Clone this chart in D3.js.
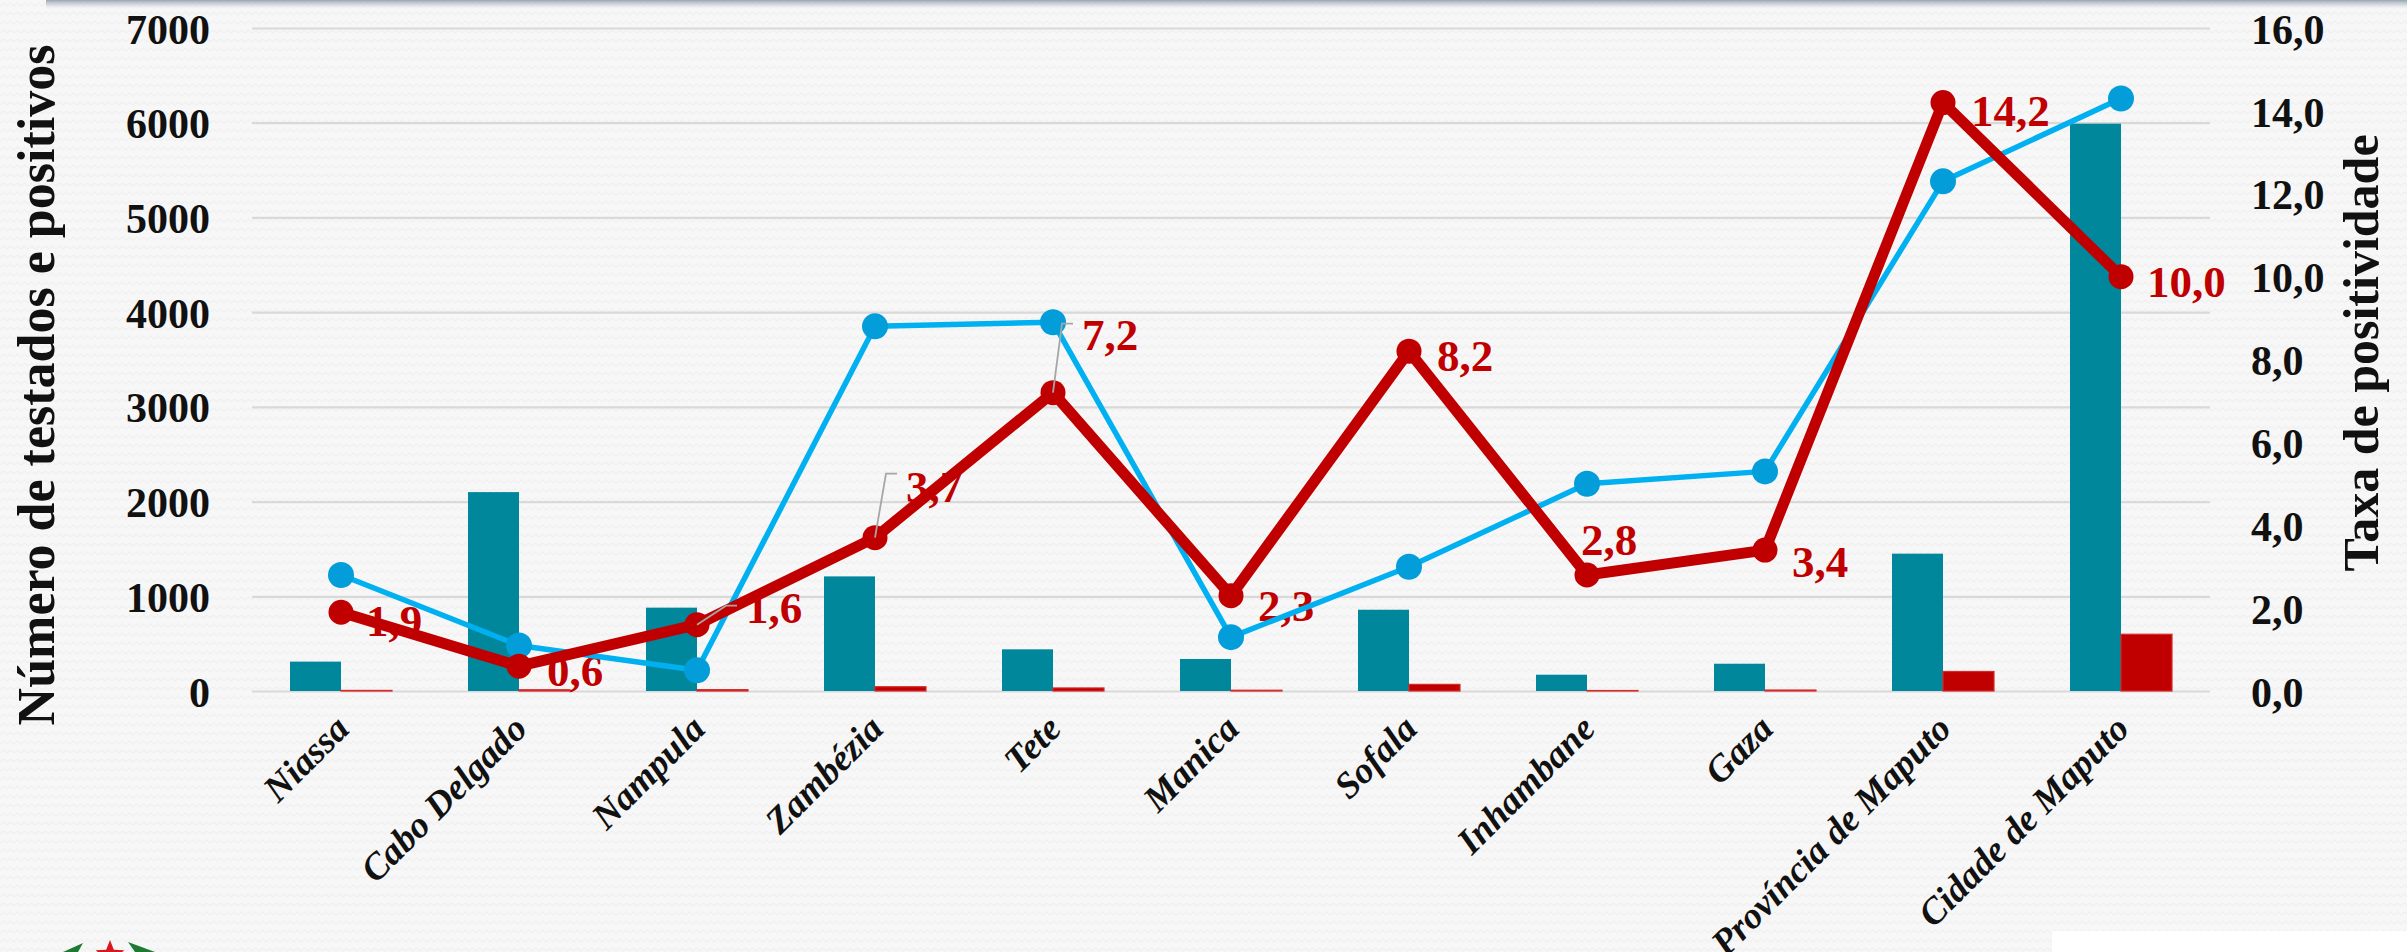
<!DOCTYPE html>
<html><head><meta charset="utf-8">
<script src="https://cdn.jsdelivr.net/npm/d3@7"></script>
<style>
html,body{margin:0;padding:0;background:#F6F6F6;}
svg{display:block;}
</style></head><body>
<svg id="chart" width="2407" height="952"></svg>
<script>
// ---------- DATA ----------
const categories = ["Niassa","Cabo Delgado","Nampula","Zambézia","Tete","Manica","Sofala","Inhambane","Gaza","Província de Maputo","Cidade de Maputo"];
const testados = [310, 2100, 880, 1210, 440, 338, 858, 172, 288, 1450, 5990];
const positivos = [6, 13, 14, 45, 32, 8, 70, 5, 10, 206, 599];
const taxaPositividade = [1.9, 0.6, 1.6, 3.7, 7.2, 2.3, 8.2, 2.8, 3.4, 14.2, 10.0];
const taxaSerieAzul = [2.8, 1.1, 0.5, 8.8, 8.9, 1.3, 3.0, 5.0, 5.3, 12.3, 14.3];
const leftTicks = [0, 1000, 2000, 3000, 4000, 5000, 6000, 7000];
const rightTicks = [0, 2, 4, 6, 8, 10, 12, 14, 16];
const leftTitle = "Número de testados e positivos";
const rightTitle = "Taxa de positividade";

// ---------- LAYOUT / STYLE ----------
const W = 2407, H = 952;
const plot = {left: 252, right: 2210, top: 28, bottom: 691};
const FONT = "'Liberation Serif', 'Times New Roman', serif";
const C = {teal: "#00879B", red: "#C00000", redEdge: "#D42A2A", blueLine: "#00B0F0", blueDot: "#039DD9", grid: "#D9D9D9", text: "#111111", leader: "#A6A6A6"};
// label placement relative to each red marker (dx to label left edge, dy to label centre)
const labelPlacement = [
  {dx: 25, dy: 8}, {dx: 28, dy: 5}, {dx: 49, dy: -17, leader: -2},
  {dx: 31, dy: -51, leader: -13}, {dx: 29, dy: -58, leader: -11},
  {dx: 27, dy: 10}, {dx: 28, dy: 4}, {dx: -6, dy: -35},
  {dx: 27, dy: 12}, {dx: 28, dy: 8}, {dx: 26, dy: 5}
];

const svg = d3.select("#chart");
const defs = svg.append("defs");

// background texture
const pat = defs.append("pattern").attr("id", "bgpat").attr("patternUnits", "userSpaceOnUse")
  .attr("width", 14).attr("height", 9);
pat.append("rect").attr("width", 14).attr("height", 9).attr("fill", "#F7F7F7");
pat.append("path").attr("d", "M0,6 L3.5,3 L7,6 L10.5,3 L14,6").attr("fill", "none")
  .attr("stroke", "#F0F0F0").attr("stroke-width", 1.2);
svg.append("rect").attr("width", W).attr("height", H).attr("fill", "url(#bgpat)");

// top shadow band
const sg = defs.append("linearGradient").attr("id", "topshadow").attr("x1", 0).attr("y1", 0).attr("x2", 0).attr("y2", 1);
sg.append("stop").attr("offset", 0).attr("stop-color", "#8D9BAA").attr("stop-opacity", 0.9);
sg.append("stop").attr("offset", 1).attr("stop-color", "#C8D0D8").attr("stop-opacity", 0);
svg.append("rect").attr("x", 46).attr("y", 0).attr("width", W - 46).attr("height", 9).attr("fill", "url(#topshadow)");

// white box bottom-right
svg.append("rect").attr("x", 2052).attr("y", 931).attr("width", W - 2052).attr("height", H - 931).attr("fill", "#FFFFFF");

// emblem (partially visible) bottom-left
const logo = svg.append("g");
const star = d3.range(10).map(i => {
  const r = i % 2 === 0 ? 15 : 6.5, a = -Math.PI / 2 + i * Math.PI / 5;
  return [110 + r * Math.cos(a), 955 + r * Math.sin(a)];
});
logo.append("polygon").attr("points", star.map(p => p.join(",")).join(" ")).attr("fill", "#D7161E");
logo.append("path").attr("d", "M63,952 L83,943 L78,952 Z").attr("fill", "#1E7A32");
logo.append("path").attr("d", "M128,942 L155,952 L135,952 Z").attr("fill", "#1E7A32");

// ---------- SCALES ----------
const x0 = d3.scaleBand().domain(categories).range([plot.left, plot.right])
  .paddingInner(0.427).paddingOuter(0.2135);
const x1 = d3.scaleBand().domain(["testados", "positivos"]).range([0, x0.bandwidth()]);
const yL = d3.scaleLinear().domain([0, 7000]).range([plot.bottom, plot.top]);
const yR = d3.scaleLinear().domain([0, 16]).range([plot.bottom, plot.top]);
const cx = c => x0(c) + x0.bandwidth() / 2;

// ---------- GRID ----------
svg.append("g").attr("transform", `translate(${plot.left},0)`)
  .call(d3.axisLeft(yL).tickValues(leftTicks).tickSize(-(plot.right - plot.left)).tickFormat(""))
  .call(g => g.select(".domain").remove())
  .call(g => g.selectAll("line").attr("stroke", C.grid).attr("stroke-width", 2.2));

// ---------- AXES ----------
svg.append("g").attr("transform", `translate(${plot.left},0)`)
  .call(d3.axisLeft(yL).tickValues(leftTicks).tickSize(0).tickPadding(42).tickFormat(d3.format("d")))
  .call(g => g.select(".domain").remove())
  .call(g => g.selectAll("text").attr("font-family", FONT).attr("font-weight", "bold")
    .attr("font-size", 42).attr("fill", C.text).attr("dy", "0.36em"));

const fmtR = d => d.toFixed(1).replace(".", ",");
svg.append("g").attr("transform", `translate(${plot.right},0)`)
  .call(d3.axisRight(yR).tickValues(rightTicks).tickSize(0).tickPadding(41).tickFormat(fmtR))
  .call(g => g.select(".domain").remove())
  .call(g => g.selectAll("text").attr("font-family", FONT).attr("font-weight", "bold")
    .attr("font-size", 42).attr("fill", C.text).attr("dy", "0.36em"));

svg.append("g").attr("transform", `translate(0,${plot.bottom})`)
  .call(d3.axisBottom(x0).tickSize(0).tickPadding(0))
  .call(g => g.select(".domain").remove())
  .call(g => g.selectAll("text").attr("font-family", FONT).attr("font-weight", "bold")
    .attr("font-style", "italic").attr("font-size", 37).attr("fill", C.text)
    .attr("text-anchor", "end").attr("x", null).attr("y", 0).attr("dy", null)
    .attr("transform", "translate(10,40) rotate(-45)"));

// axis titles
svg.append("text").attr("transform", `translate(54,385) rotate(-90)`)
  .attr("text-anchor", "middle").attr("font-family", FONT).attr("font-weight", "bold")
  .attr("font-size", 52).attr("fill", C.text).text(leftTitle);
svg.append("text").attr("transform", `translate(2378,353) rotate(-90)`)
  .attr("text-anchor", "middle").attr("font-family", FONT).attr("font-weight", "bold")
  .attr("font-size", 50).attr("fill", C.text).text(rightTitle);

// ---------- BARS ----------
const bars = svg.append("g");
bars.selectAll("rect.t").data(categories).join("rect").attr("class", "t")
  .attr("x", c => x0(c) + x1("testados")).attr("width", x1.bandwidth())
  .attr("y", (c, i) => yL(testados[i])).attr("height", (c, i) => yL(0) - yL(testados[i]))
  .attr("fill", C.teal);
bars.selectAll("rect.p").data(categories).join("rect").attr("class", "p")
  .attr("x", c => x0(c) + x1("positivos")).attr("width", x1.bandwidth())
  .attr("y", (c, i) => yL(positivos[i])).attr("height", (c, i) => yL(0) - yL(positivos[i]))
  .attr("fill", C.red).attr("stroke", C.redEdge).attr("stroke-width", 1.2);

// ---------- DATA LABELS (under the lines) ----------
const LFS = 45;
const labels = svg.append("g");
categories.forEach((c, i) => {
  const mx = cx(c), my = yR(taxaPositividade[i]), p = labelPlacement[i];
  const lx = mx + p.dx, lc = my + p.dy;
  labels.append("text").attr("x", lx).attr("y", lc + 0.34 * LFS)
    .attr("font-family", FONT).attr("font-weight", "bold").attr("font-size", LFS)
    .attr("fill", C.red).text(fmtR(taxaPositividade[i]));
});

// ---------- BLUE LINE ----------
const lineB = d3.line().x((d, i) => cx(categories[i])).y(d => yR(d));
svg.append("path").datum(taxaSerieAzul).attr("d", lineB).attr("fill", "none")
  .attr("stroke", C.blueLine).attr("stroke-width", 5.5).attr("stroke-linejoin", "round");
svg.append("g").selectAll("circle").data(taxaSerieAzul).join("circle")
  .attr("cx", (d, i) => cx(categories[i])).attr("cy", d => yR(d)).attr("r", 13)
  .attr("fill", C.blueDot);

// ---------- RED LINE ----------
svg.append("path").datum(taxaPositividade).attr("d", lineB).attr("fill", "none")
  .attr("stroke", C.red).attr("stroke-width", 11).attr("stroke-linejoin", "round");
svg.append("g").selectAll("circle").data(taxaPositividade).join("circle")
  .attr("cx", (d, i) => cx(categories[i])).attr("cy", d => yR(d)).attr("r", 12.5)
  .attr("fill", C.red);

// ---------- LEADER LINES ----------
categories.forEach((c, i) => {
  const p = labelPlacement[i];
  if (p.leader === undefined) return;
  const mx = cx(c), my = yR(taxaPositividade[i]);
  const lx = mx + p.dx, ly = my + p.dy + p.leader;
  svg.append("polyline").attr("points", `${mx},${my} ${lx - 20},${ly} ${lx - 9},${ly}`)
    .attr("fill", "none").attr("stroke", C.leader).attr("stroke-width", 1.8);
});
</script>
</body></html>
